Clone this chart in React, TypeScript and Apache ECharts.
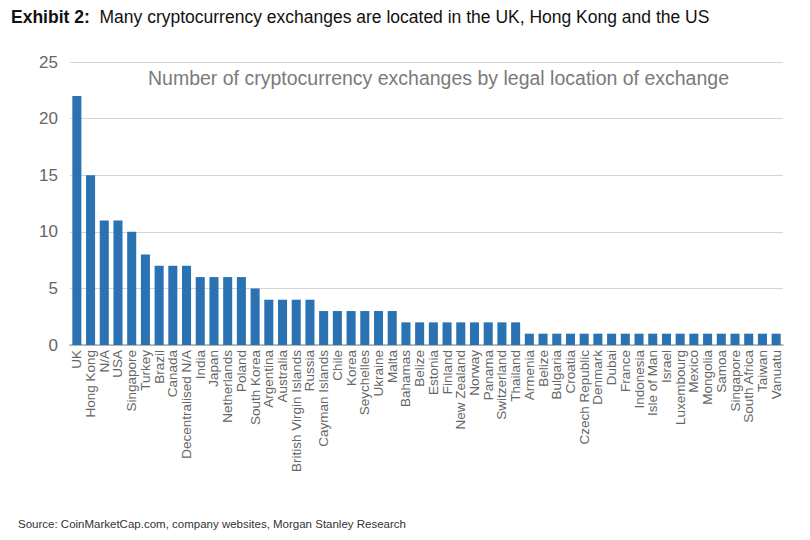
import React, { useEffect, useRef } from "react";
import * as echarts from "echarts";

const categories: string[] = [
  "UK", "Hong Kong", "N/A", "USA", "Singapore", "Turkey", "Brazil", "Canada",
  "Decentralised N/A", "India", "Japan", "Netherlands", "Poland", "South Korea",
  "Argentina", "Australia", "British Virgin Islands", "Russia", "Cayman Islands",
  "Chile", "Korea", "Seychelles", "Ukraine", "Malta", "Bahamas", "Belize",
  "Estonia", "Finland", "New Zealand", "Norway", "Panama", "Switzerland",
  "Thailand", "Armenia", "Belize", "Bulgaria", "Croatia", "Czech Republic",
  "Denmark", "Dubai", "France", "Indonesia", "Isle of Man", "Israel",
  "Luxembourg", "Mexico", "Mongolia", "Samoa", "Singapore", "South Africa",
  "Taiwan", "Vanuatu",
];

const exchanges: number[] = [
  22, 15, 11, 11, 10, 8, 7, 7,
  7, 6, 6, 6, 6, 5,
  4, 4, 4, 4, 3,
  3, 3, 3, 3, 3, 2, 2,
  2, 2, 2, 2, 2, 2,
  2, 1, 1, 1, 1, 1,
  1, 1, 1, 1, 1, 1,
  1, 1, 1, 1, 1, 1,
  1, 1,
];

const yTicks = { min: 0, max: 25, interval: 5 };

const exhibitLabel = "Exhibit 2:";
const titleText = "Many cryptocurrency exchanges are located in the UK, Hong Kong and the US";
const innerTitle = "Number of cryptocurrency exchanges by legal location of exchange";
const sourceText = "Source: CoinMarketCap.com, company websites, Morgan Stanley Research";

const FONT = "'Liberation Sans', Arial, sans-serif";

export default function App() {
  const ref = useRef<HTMLDivElement>(null);
  useEffect(() => {
    document.body.style.margin = "0";
    const chart = echarts.init(ref.current!, undefined, { renderer: "svg" });
    chart.setOption({
      animation: false,
      backgroundColor: "#ffffff",
      grid: { left: 70, right: 27, top: 62, bottom: 195, containLabel: false },
      graphic: [
        {
          type: "text",
          left: 11,
          top: 8,
          style: {
            text: "{b|" + exhibitLabel + "}  " + titleText,
            rich: {
              b: { fontWeight: "bold", fontSize: 17.5, fill: "#111", fontFamily: FONT },
            },
            fontSize: 17.5,
            fill: "#111",
            fontFamily: FONT,
          },
        },
        {
          type: "text",
          left: 148,
          top: 68,
          style: {
            text: innerTitle,
            fontSize: 19.5,
            fill: "#7a7a7a",
            fontFamily: FONT,
          },
        },
        {
          type: "text",
          left: 18,
          top: 518,
          style: {
            text: sourceText,
            fontSize: 11.5,
            fill: "#333",
            fontFamily: FONT,
          },
        },
      ],
      xAxis: {
        type: "category",
        data: categories,
        axisTick: { show: false },
        axisLine: { lineStyle: { color: "#a8a8a8", width: 1.5 } },
        axisLabel: {
          interval: 0,
          rotate: 90,
          fontSize: 13.5,
          color: "#666",
          margin: 5,
          fontFamily: FONT,
        },
      },
      yAxis: {
        type: "value",
        min: yTicks.min,
        max: yTicks.max,
        interval: yTicks.interval,
        axisLine: { show: false },
        axisTick: { show: false },
        splitLine: { lineStyle: { color: "#d4d4d4", width: 1 } },
        axisLabel: {
          fontSize: 17,
          color: "#666",
          margin: 12,
          fontFamily: FONT,
        },
      },
      series: [
        {
          type: "bar",
          data: exchanges,
          barCategoryGap: "34%",
          itemStyle: { color: "#2a72b2" },
        },
      ],
    });
    return () => chart.dispose();
  }, []);
  return <div ref={ref} style={{ width: 810, height: 540 }} />;
}
